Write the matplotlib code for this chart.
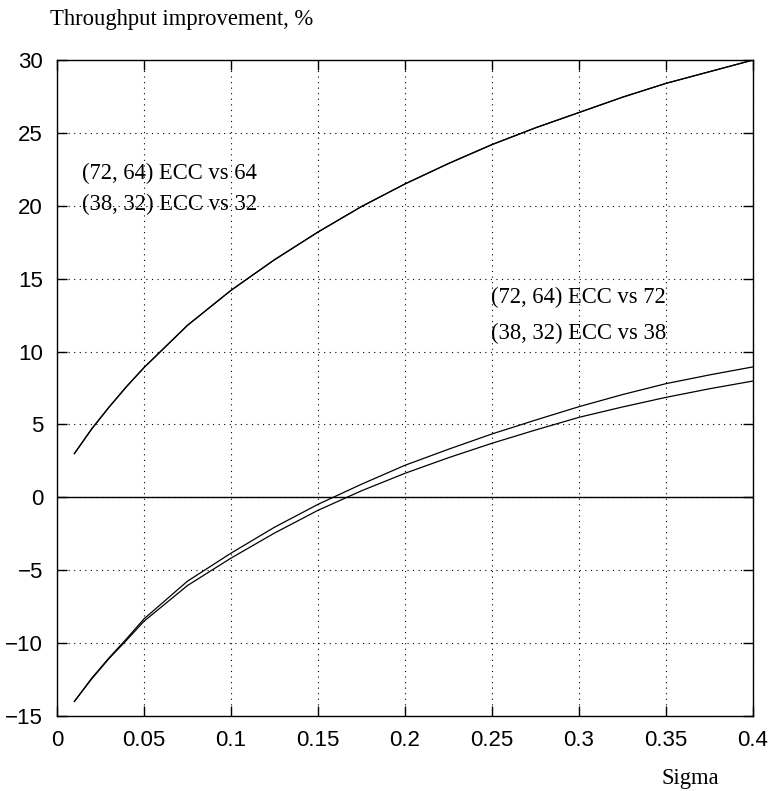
import matplotlib
matplotlib.use("Agg")
import matplotlib.pyplot as plt

# Sigma values (x) and throughput improvement, % (y)
sigma = [0.01, 0.02, 0.03, 0.04, 0.05, 0.075, 0.1, 0.125, 0.15, 0.175,
         0.2, 0.225, 0.25, 0.275, 0.3, 0.325, 0.35, 0.375, 0.4]

ecc72_vs_64 = [3.0, 4.7, 6.2, 7.6, 8.9, 11.8, 14.2, 16.3, 18.2, 19.95,
               21.5, 22.9, 24.2, 25.35, 26.4, 27.45, 28.4, 29.2, 30.0]
ecc38_vs_32 = [3.0, 4.7, 6.2, 7.6, 8.9, 11.8, 14.2, 16.3, 18.2, 19.95,
               21.5, 22.9, 24.2, 25.35, 26.4, 27.45, 28.4, 29.2, 30.0]
ecc72_vs_72 = [-14.0, -12.4, -11.0, -9.7, -8.34, -5.75, -3.83, -2.05, -0.48, 0.9,
               2.2, 3.3, 4.35, 5.3, 6.22, 7.05, 7.8, 8.4, 8.95]
ecc38_vs_38 = [-14.0, -12.45, -11.05, -9.8, -8.5, -6.05, -4.17, -2.45, -0.89, 0.45,
               1.65, 2.72, 3.71, 4.62, 5.49, 6.2, 6.86, 7.45, 7.98]

xticks = [0, 0.05, 0.1, 0.15, 0.2, 0.25, 0.3, 0.35, 0.4]
xticklabels = ["0", "0.05", "0.1", "0.15", "0.2", "0.25", "0.3", "0.35", "0.4"]
yticks = [-15, -10, -5, 0, 5, 10, 15, 20, 25, 30]

serif = "Liberation Serif"
sans = "Liberation Sans"

fig = plt.figure(figsize=(7.75, 7.91), dpi=100)
ax = fig.add_axes([0.0735, 0.0948, 0.8981, 0.8293])

for ys in (ecc72_vs_64, ecc38_vs_32, ecc72_vs_72, ecc38_vs_38):
    ax.plot(sigma, ys, color="black", lw=0.9)

ax.axhline(0, color="black", lw=1.0)

ax.set_xlim(0, 0.4)
ax.set_ylim(-15, 30)
ax.set_xticks(xticks)
ax.set_xticklabels(xticklabels)
ax.set_yticks(yticks)

ax.grid(True, color="black", linestyle=(0, (1, 4)), lw=0.8)
ax.tick_params(direction="in", length=7, width=1, top=True, right=True,
               labelsize=16, pad=10)
for lab in ax.get_xticklabels() + ax.get_yticklabels():
    lab.set_fontfamily(sans)
for sp in ax.spines.values():
    sp.set_linewidth(1.0)

# curve labels
ax.text(0.0142, 21.86, "(72, 64) ECC vs 64", family=serif, fontsize=16.3, va="baseline")
ax.text(0.0142, 19.73, "(38, 32) ECC vs 32", family=serif, fontsize=16.3, va="baseline")
ax.text(0.2492, 13.35, "(72, 64) ECC vs 72", family=serif, fontsize=16.3, va="baseline")
ax.text(0.2492, 10.88, "(38, 32) ECC vs 38", family=serif, fontsize=16.3, va="baseline")

# axis titles
fig.text(0.0645, 0.968, "Throughput improvement, %", family=serif, fontsize=16.3, va="baseline")
fig.text(0.854, 0.0088, "Sigma", family=serif, fontsize=16.3, va="baseline")

fig.savefig("out.png", dpi=100)
